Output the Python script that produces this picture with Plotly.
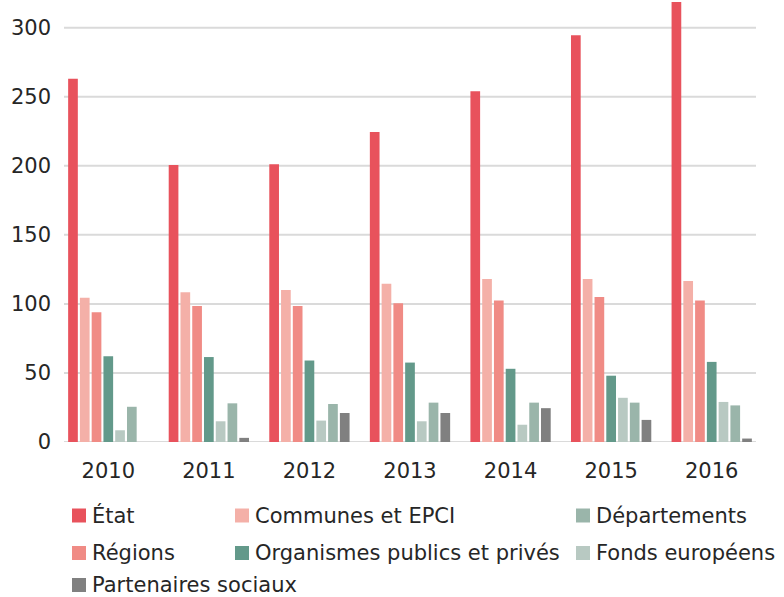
import plotly.graph_objects as go

years = ["2010", "2011", "2012", "2013", "2014", "2015", "2016"]

etat = [263, 200.5, 201, 224.5, 254, 294.5, 318.5]
communes = [104.5, 108.5, 110, 114.5, 118, 118, 116.5]
regions = [94, 98.5, 98.5, 100.5, 102.5, 105, 102.5]
organismes = [62, 61.5, 59, 57.5, 53, 48, 58]
fonds = [8.5, 15, 15.5, 15, 12.5, 32, 29]
departements = [25.5, 28, 27.5, 28.5, 28.5, 28.5, 26.5]
partenaires = [0, 3, 21, 21, 24.5, 16, 2.5]

# bar order within each group
series = [
    ("État", etat, "#e8525c"),
    ("Communes et EPCI", communes, "#f4b0a8"),
    ("Régions", regions, "#f08b85"),
    ("Organismes publics et privés", organismes, "#63998a"),
    ("Fonds européens", fonds, "#b8c9c2"),
    ("Départements", departements, "#9ab5aa"),
    ("Partenaires sociaux", partenaires, "#808080"),
]

legend_order = ["État", "Communes et EPCI", "Départements",
                "Régions", "Organismes publics et privés", "Fonds européens",
                "Partenaires sociaux"]

y_ticks = [0, 50, 100, 150, 200, 250, 300]

FONT = "DejaVu Sans"
TXT = "#262626"
W, H = 784, 597
L, R, T, B = 58, 22, 0, 155
PW, PH = W - L - R, H - T - B

fig = go.Figure()
for name, vals, color in series:
    fig.add_trace(go.Bar(x=years, y=vals, name=name, marker_color=color,
                         marker_line_width=0, showlegend=False))

shapes = []
# gridlines
for v in y_ticks:
    shapes.append(dict(type="line", xref="paper", yref="y",
                       x0=6 / PW, x1=1 - 6 / PW, y0=v, y1=v,
                       line=dict(color="#dadada", width=2), layer="below"))

# custom legend
col_x = [72, 235, 576]
row_y = [515.5, 553, 585]
colors = {n: c for n, _, c in series}
annotations = []
for i, name in enumerate(legend_order):
    cx = col_x[i % 3]
    cy = row_y[i // 3]
    x0 = (cx - L) / PW
    x1 = (cx + 14 - L) / PW
    y0 = (T + PH - (cy - 7)) / PH
    y1 = (T + PH - (cy + 7)) / PH
    shapes.append(dict(type="rect", xref="paper", yref="paper",
                       x0=x0, x1=x1, y0=y1, y1=y0,
                       fillcolor=colors[name], line=dict(width=0)))
    annotations.append(dict(text=name, xref="paper", yref="paper",
                            x=(cx + 18 - L) / PW, y=(T + PH - cy) / PH,
                            xanchor="left", yanchor="middle", showarrow=False,
                            font=dict(family=FONT, size=21, color=TXT)))

fig.update_layout(
    width=W, height=H,
    margin=dict(l=L, r=R, t=T, b=B),
    paper_bgcolor="white", plot_bgcolor="white",
    barmode="group", bargap=0.181, bargroupgap=0.176,
    font=dict(family=FONT, size=21, color=TXT),
    shapes=shapes, annotations=annotations,
    showlegend=False,
    xaxis=dict(showgrid=False, showline=False, zeroline=False, ticks="",
               ticklabelstandoff=14, tickfont=dict(size=21)),
    yaxis=dict(range=[0, 320], tickvals=y_ticks, showgrid=False,
               zeroline=False, showline=False, ticks="",
               ticklabelstandoff=6, tickfont=dict(size=21)),
)

fig.write_html("out.html",
               config={"displayModeBar": False},
               post_script="document.body.style.margin='0';"
                           "document.body.style.overflow='hidden';")
